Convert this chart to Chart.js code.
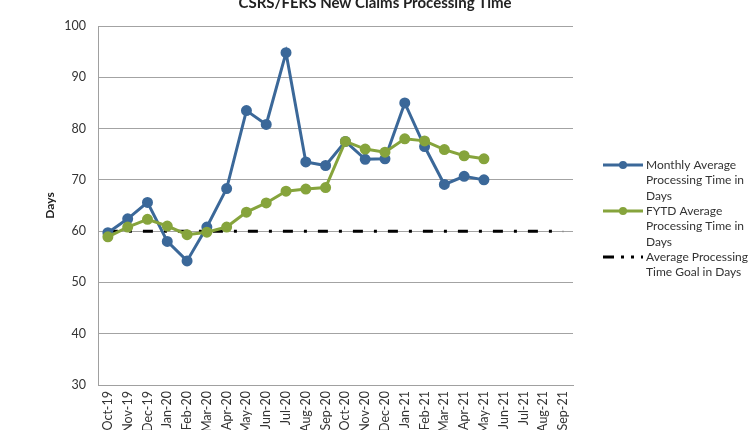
<!DOCTYPE html>
<html><head><meta charset="utf-8">
<script src="https://cdn.jsdelivr.net/npm/chart.js@4/dist/chart.umd.min.js"></script>
<style>
html,body{margin:0;padding:0;background:#fff;overflow:hidden;width:750px;height:430px;}
#wrap{position:absolute;left:0;top:-6px;width:750px;height:436px;}
</style></head>
<body><div id="wrap"><canvas id="c" width="750" height="436"></canvas></div>
<script>
const categories = ["Oct-19","Nov-19","Dec-19","Jan-20","Feb-20","Mar-20","Apr-20","May-20","Jun-20","Jul-20","Aug-20","Sep-20","Oct-20","Nov-20","Dec-20","Jan-21","Feb-21","Mar-21","Apr-21","May-21","Jun-21","Jul-21","Aug-21","Sep-21"];
const monthlyAvg = [59.7,62.4,65.6,58.0,54.2,60.8,68.3,83.5,80.8,94.8,73.5,72.8,77.5,74.0,74.1,85.0,76.5,69.1,70.7,70.0];
const fytdAvg = [58.9,60.8,62.3,61.0,59.3,59.8,60.8,63.7,65.5,67.8,68.2,68.5,77.5,76.0,75.4,78.0,77.6,75.9,74.7,74.1];
const goal = [60,60,60,60,60,60,60,60,60,60,60,60,60,60,60,60,60,60,60,60,60,60,60,60];
const yTicks = [30,40,50,60,70,80,90,100];
const seriesNames = [["Monthly Average","Processing Time in","Days"],["FYTD Average","Processing Time in","Days"],["Average Processing","Time Goal in Days"]];

const BLUE = '#3b6899', GREEN = '#86a43c', FONT = 'Lato, "Open Sans", sans-serif';

const legendPlugin = {
  id: 'customLegend',
  afterDraw(chart) {
    const ctx = chart.ctx;
    const items = [
      {color: BLUE, point: true, dash: [], y: 171, lines: seriesNames[0]},
      {color: GREEN, point: true, dash: [], y: 217, lines: seriesNames[1]},
      {color: '#000', point: false, dash: [11,7,3,7,3,7], y: 263, lines: seriesNames[2]}
    ];
    ctx.save();
    items.forEach(it => {
      ctx.strokeStyle = it.color; ctx.lineWidth = 3; ctx.setLineDash(it.dash);
      ctx.beginPath(); ctx.moveTo(603, it.y); ctx.lineTo(643, it.y); ctx.stroke();
      ctx.setLineDash([]);
      if (it.point) { ctx.fillStyle = it.color; ctx.beginPath(); ctx.arc(623, it.y, 4, 0, Math.PI*2); ctx.fill(); }
      ctx.fillStyle = '#333'; ctx.font = '12px ' + FONT; ctx.textBaseline = 'middle'; ctx.textAlign = 'left';
      it.lines.forEach((t, i) => ctx.fillText(t, 646, it.y + i * 15.5));
    });
    ctx.restore();
  }
};

new Chart(document.getElementById('c'), {
  type: 'line',
  data: {
    labels: categories,
    datasets: [
      {label: 'FYTD Average Processing Time in Days', data: fytdAvg, borderColor: GREEN, backgroundColor: GREEN, borderWidth: 3, pointRadius: 4, pointBackgroundColor: GREEN, pointBorderColor: GREEN, order: 1, tension: 0},
      {label: 'Monthly Average Processing Time in Days', data: monthlyAvg, borderColor: BLUE, backgroundColor: BLUE, borderWidth: 3, pointRadius: 4, pointBackgroundColor: BLUE, pointBorderColor: BLUE, order: 2, tension: 0},
      {label: 'Average Processing Time Goal in Days', data: goal, borderColor: '#000', borderWidth: 3, borderDash: [10,11,3,11], pointRadius: 0, order: 3, yAxisID: 'y'}
    ]
  },
  options: {
    responsive: false, animation: false, devicePixelRatio: 1,
    layout: {padding: {left: 0, right: 0, top: 0, bottom: 0}},
    plugins: {
      legend: {display: false}, tooltip: {enabled: false},
      title: {display: true, text: 'CSRS/FERS New Claims Processing Time', color: '#222', font: {family: FONT, size: 15, weight: 'bold'}, padding: {top: 0, bottom: 14}}
    },
    scales: {
      x: {
        offset: true,
        grid: {display: false, drawTicks: false},
        border: {color: '#a0a0a0', width: 1},
        ticks: {autoSkip: false, minRotation: 90, maxRotation: 90, color: '#333', font: {family: FONT, size: 12.5}, padding: 6},
        afterFit(s) { s.height = 45; }
      },
      y: {
        min: 30, max: 100,
        afterBuildTicks(s) { s.ticks = yTicks.map(v => ({value: v})); },
        grid: {color: '#a3a3a3', lineWidth: 1, drawTicks: false},
        border: {color: '#a0a0a0', width: 1},
        ticks: {color: '#333', font: {family: FONT, size: 12.5}, padding: 12},
        title: {display: true, text: 'Days', color: '#222', font: {family: FONT, size: 12, weight: 'bold'}, padding: {top: 43, bottom: 0}},
        afterFit(s) { s.width = 98; }
      },
      y2: {
        position: 'right', display: true,
        grid: {display: false, drawTicks: false}, border: {display: false},
        ticks: {display: false},
        afterFit(s) { s.width = 177; }
      }
    }
  },
  plugins: [legendPlugin]
});
</script>
</body></html>
